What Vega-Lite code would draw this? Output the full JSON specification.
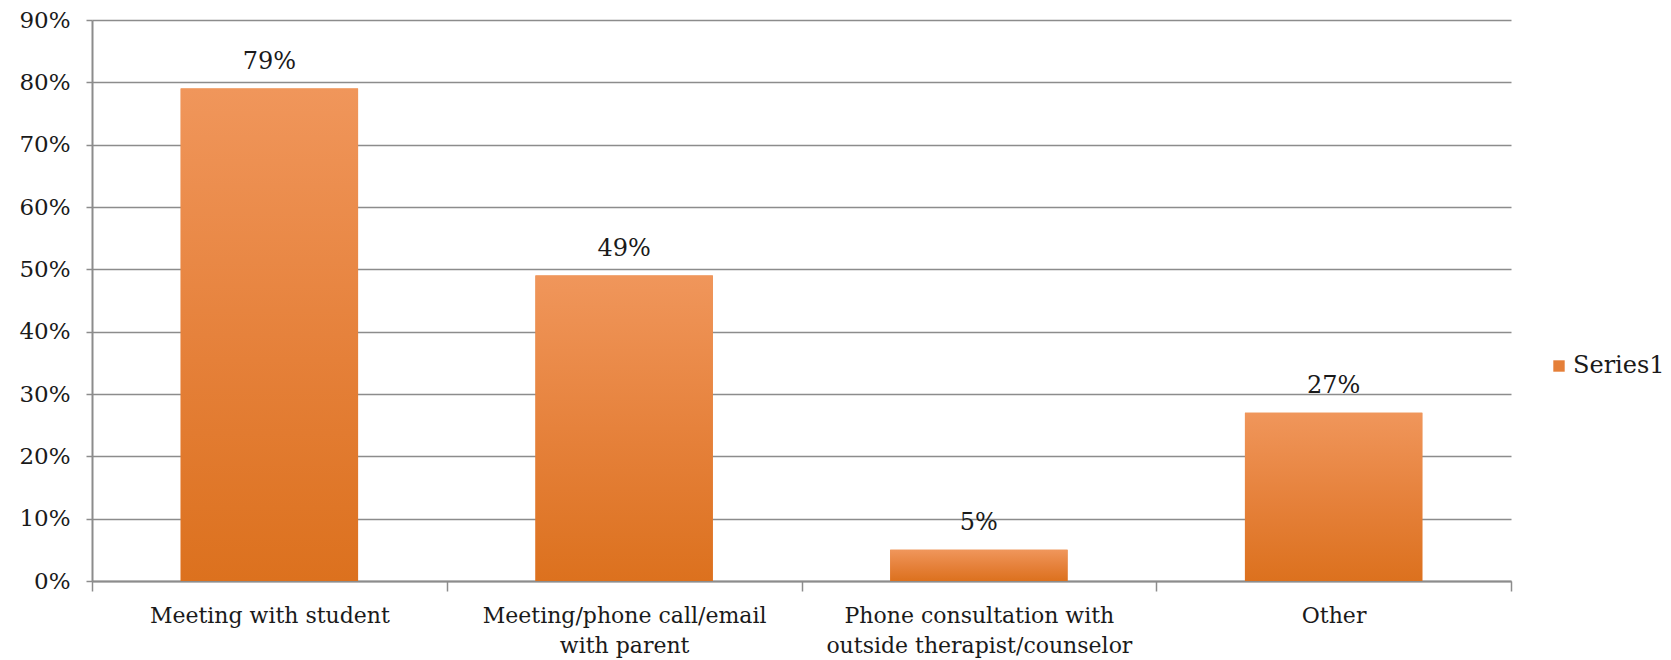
{
  "$schema": "https://vega.github.io/schema/vega-lite/v6.json",
  "width": 1419,
  "height": 561,
  "autosize": "none",
  "padding": {"left": 92, "top": 20, "right": 160, "bottom": 79},
  "background": "white",
  "config": {
    "view": {"stroke": null},
    "font": "DejaVu Serif",
    "axis": {"labelFont": "DejaVu Serif", "labelColor": "#1a1a1a", "titleFont": "DejaVu Serif"},
    "legend": {"labelFont": "DejaVu Serif"}
  },
  "data": {
    "values": [
      {"category": "Meeting with student", "value": 0.79, "series": "Series1"},
      {"category": "Meeting/phone call/email with parent", "value": 0.49, "series": "Series1"},
      {"category": "Phone consultation with outside therapist/counselor", "value": 0.05, "series": "Series1"},
      {"category": "Other", "value": 0.27, "series": "Series1"}
    ]
  },
  "encoding": {
    "x": {
      "field": "category",
      "type": "nominal",
      "sort": null,
      "scale": {"paddingInner": 0, "paddingOuter": 0},
      "axis": {
        "title": null,
        "labelAngle": 0,
        "labelFontSize": 22,
        "labelPadding": 14,
        "labelLineHeight": 30,
        "labelLimit": 400,
        "tickBand": "extent",
        "tickSize": 10,
        "tickColor": "#8c8c8c",
        "tickWidth": 1.5,
        "domainColor": "#8c8c8c",
        "domainWidth": 2,
        "labelExpr": "datum.value == 'Meeting/phone call/email with parent' ? ['Meeting/phone call/email', 'with parent'] : datum.value == 'Phone consultation with outside therapist/counselor' ? ['Phone consultation with', 'outside therapist/counselor'] : datum.value"
      }
    },
    "y": {
      "field": "value",
      "type": "quantitative",
      "scale": {"domain": [0, 0.9]},
      "axis": {
        "title": null,
        "format": ".0%",
        "values": [0, 0.1, 0.2, 0.3, 0.4, 0.5, 0.6, 0.7, 0.8, 0.9],
        "labelFontSize": 23,
        "labelPadding": 16,
        "tickSize": 6,
        "tickColor": "#8c8c8c",
        "tickWidth": 1.5,
        "domainColor": "#8c8c8c",
        "domainWidth": 2,
        "gridColor": "#8c8c8c",
        "gridWidth": 1.5,
        "gridOpacity": 1
      }
    }
  },
  "layer": [
    {
      "mark": {"type": "bar", "width": {"band": 0.5}},
      "encoding": {
        "fill": {
          "field": "series",
          "type": "nominal",
          "scale": {"range": ["#e57f38"]},
          "legend": {
            "title": null,
            "orient": "none",
            "legendX": 1455,
            "legendY": 334,
            "symbolType": "square",
            "symbolSize": 130,
            "labelFontSize": 24,
            "labelColor": "#1a1a1a",
            "labelOffset": 2
          }
        }
      }
    },
    {
      "mark": {
        "type": "bar",
        "width": {"band": 0.5},
        "color": {
          "gradient": "linear",
          "x1": 0, "y1": 0, "x2": 0, "y2": 1,
          "stops": [
            {"offset": 0, "color": "#f0965b"},
            {"offset": 0.55, "color": "#e58039"},
            {"offset": 1, "color": "#dc711e"}
          ]
        }
      },
      "encoding": {}
    },
    {
      "mark": {"type": "text", "dy": -27, "fontSize": 24, "color": "#1a1a1a", "font": "DejaVu Serif"},
      "encoding": {
        "text": {"field": "value", "type": "quantitative", "format": ".0%"}
      }
    }
  ]
}
